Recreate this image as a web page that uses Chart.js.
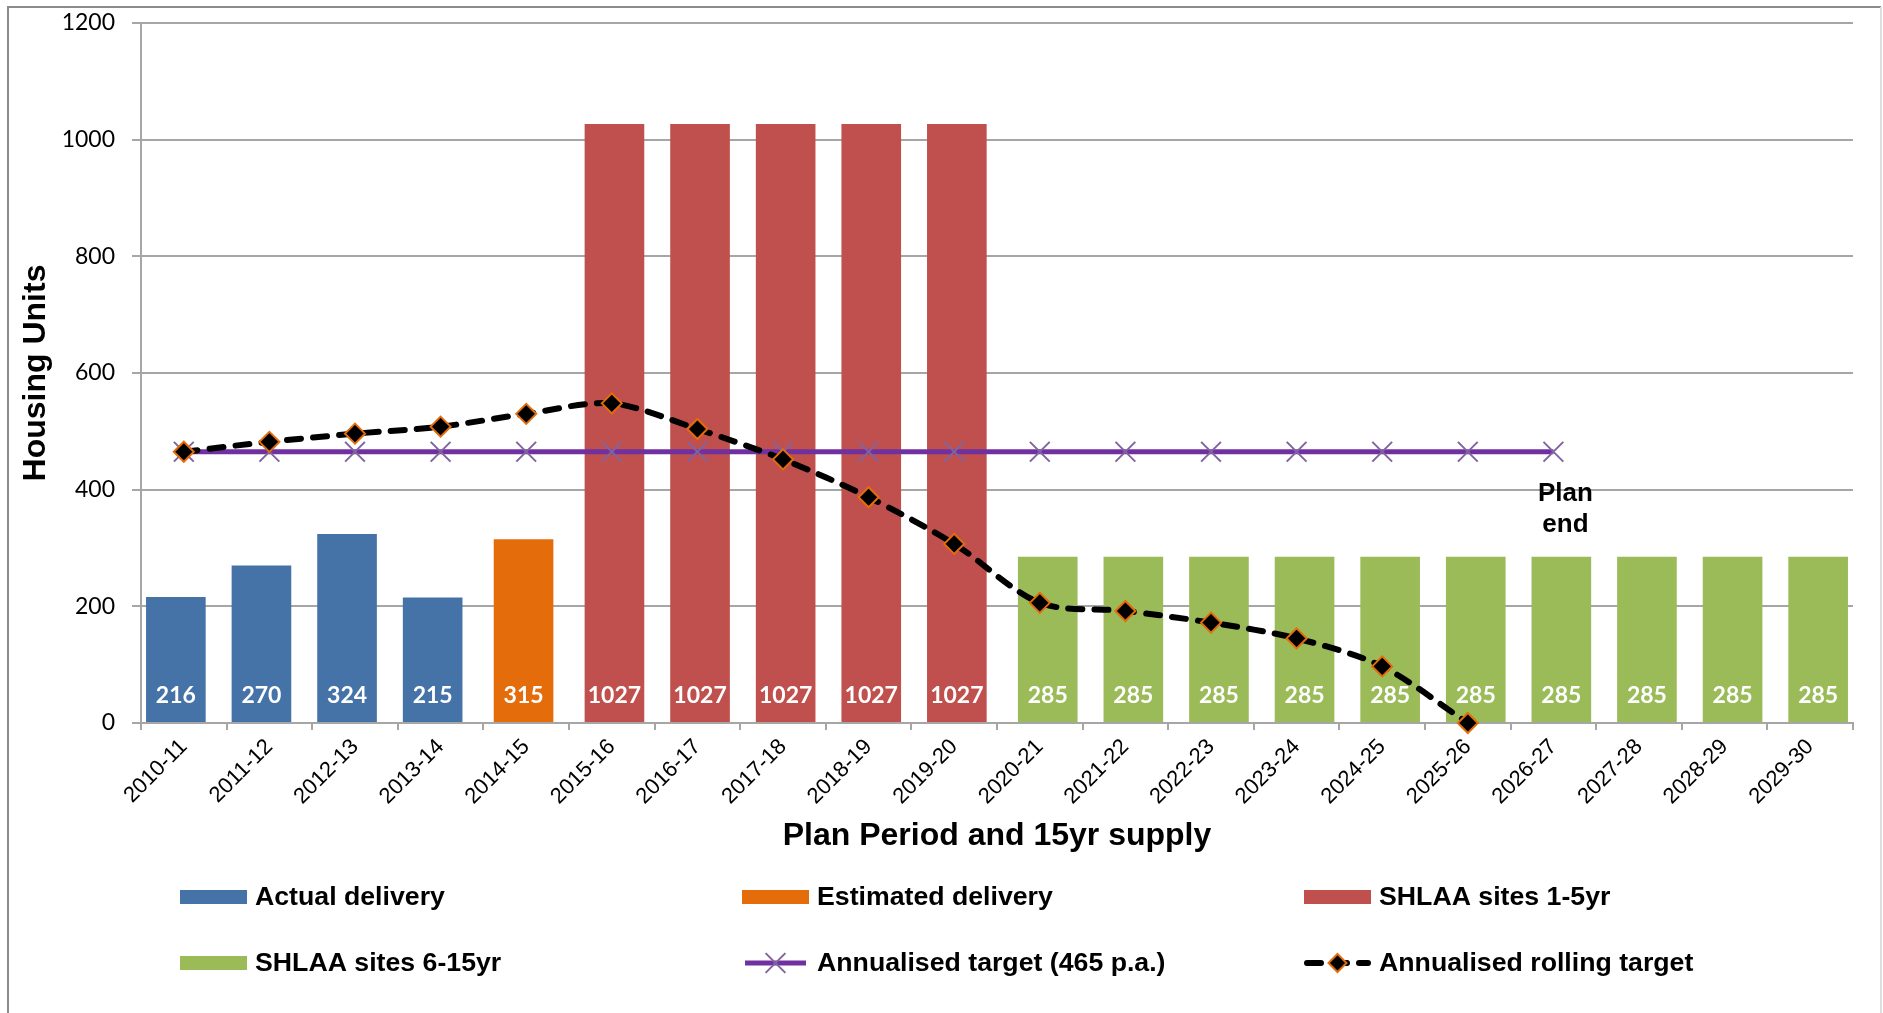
<!DOCTYPE html>
<html>
<head>
<meta charset="utf-8">
<title>Housing supply trajectory</title>
<script src="https://cdn.jsdelivr.net/npm/chart.js@4/dist/chart.umd.min.js"></script>
<style>
  html, body { margin: 0; padding: 0; background: #ffffff; }
  #wrap { width: 1883px; height: 1013px; position: relative; }
</style>
</head>
<body>
<div id="wrap"><canvas id="supplyChart"></canvas></div>
<script>
// ---- data -------------------------------------------------------------
const years = ['2010-11', '2011-12', '2012-13', '2013-14', '2014-15', '2015-16', '2016-17',
  '2017-18', '2018-19', '2019-20', '2020-21', '2021-22', '2022-23', '2023-24', '2024-25',
  '2025-26', '2026-27', '2027-28', '2028-29', '2029-30'];

const actualDelivery    = [216, 270, 324, 215, null, null, null, null, null, null,
                           null, null, null, null, null, null, null, null, null, null];
const estimatedDelivery = [null, null, null, null, 315, null, null, null, null, null,
                           null, null, null, null, null, null, null, null, null, null];
const shlaa1to5         = [null, null, null, null, null, 1027, 1027, 1027, 1027, 1027,
                           null, null, null, null, null, null, null, null, null, null];
const shlaa6to15        = [null, null, null, null, null, null, null, null, null, null,
                           285, 285, 285, 285, 285, 285, 285, 285, 285, 285];
const annualTarget      = [465, 465, 465, 465, 465, 465, 465, 465, 465, 465,
                           465, 465, 465, 465, 465, 465, 465, null, null, null];
const rollingTarget     = [465, 482, 496, 508, 530, 548, 504, 452, 387, 307,
                           206, 192, 172, 145, 97, 0, null, null, null, null];

const yTicks = [0, 200, 400, 600, 800, 1000, 1200];
const planEndIndex = 16;
const planEndText = ['Plan', 'end'];
const planEndValue = 380;

const legendOrder = ['Actual delivery', 'Estimated delivery', 'SHLAA sites 1-5yr',
  'SHLAA sites 6-15yr', 'Annualised target (465 p.a.)', 'Annualised rolling target'];

// ---- plugins ----------------------------------------------------------
const frame = {
  id: 'frame',
  beforeDraw(chart) {
    const ctx = chart.ctx;
    ctx.save();
    ctx.fillStyle = '#ffffff';
    ctx.fillRect(0, 0, chart.width, chart.height);
    ctx.lineWidth = 2;
    ctx.strokeStyle = '#8c8c8c';
    ctx.beginPath();
    ctx.moveTo(8, chart.height);
    ctx.lineTo(8, 7);
    ctx.lineTo(1881, 7);
    ctx.stroke();
    ctx.strokeStyle = '#dedede';
    ctx.beginPath();
    ctx.moveTo(1881, 7);
    ctx.lineTo(1881, chart.height);
    ctx.stroke();
    ctx.restore();
  }
};

// white value labels sitting near the foot of each bar
const barValues = {
  id: 'barValues',
  afterDatasetsDraw(chart) {
    const ctx = chart.ctx;
    const base = chart.scales.y.getPixelForValue(0);
    ctx.save();
    ctx.font = 'bold 23px Lato';
    ctx.fillStyle = '#ffffff';
    ctx.textAlign = 'center';
    ctx.textBaseline = 'middle';
    chart.data.datasets.forEach((ds, di) => {
      if (ds.type !== 'bar') return;
      const meta = chart.getDatasetMeta(di);
      meta.data.forEach((el, i) => {
        const v = ds.data[i];
        if (v === null || v === undefined) return;
        ctx.fillText(String(v), el.x, base - 27);
      });
    });
    ctx.restore();
  }
};

const planEnd = {
  id: 'planEnd',
  afterDraw(chart) {
    const ctx = chart.ctx;
    const x = chart.scales.x.getPixelForValue(planEndIndex) + 12;
    const y = chart.scales.y.getPixelForValue(planEndValue);
    ctx.save();
    ctx.font = 'bold 26px "Liberation Sans"';
    ctx.fillStyle = '#000000';
    ctx.textAlign = 'center';
    ctx.textBaseline = 'alphabetic';
    planEndText.forEach((t, k) => ctx.fillText(t, x, y + k * 31));
    ctx.restore();
  }
};

// three-column legend under the axis title
const gridLegend = {
  id: 'gridLegend',
  afterDraw(chart) {
    const ctx = chart.ctx;
    const colX = [180, 742, 1304];
    const rowY = [897, 963];
    const swatchW = 67;
    ctx.save();
    legendOrder.forEach((label, i) => {
      const ds = chart.data.datasets.find(d => d.label === label);
      const x = colX[i % 3];
      const y = rowY[Math.floor(i / 3)];
      if (ds.type === 'bar') {
        ctx.fillStyle = ds.backgroundColor;
        ctx.fillRect(x, y - 7, swatchW, 14);
      } else {
        ctx.strokeStyle = ds.borderColor;
        ctx.lineWidth = ds.borderWidth;
        ctx.lineCap = ds.borderCapStyle || 'butt';
        ctx.setLineDash(ds.borderDash || []);
        ctx.beginPath();
        ctx.moveTo(x + 3, y);
        ctx.lineTo(x + swatchW - 3, y);
        ctx.stroke();
        ctx.setLineDash([]);
        ctx.lineCap = 'butt';
        ctx.fillStyle = ds.pointBackgroundColor;
        ctx.strokeStyle = ds.pointBorderColor;
        ctx.lineWidth = ds.pointBorderWidth;
        Chart.helpers.drawPoint(ctx, {
          pointStyle: ds.pointStyle,
          radius: ds.legendPointRadius,
          borderWidth: ds.pointBorderWidth,
          rotation: 0
        }, x + swatchW / 2, y);
      }
      ctx.font = 'bold 26.7px "Liberation Sans"';
      ctx.fillStyle = '#000000';
      ctx.textAlign = 'left';
      ctx.textBaseline = 'middle';
      ctx.fillText(label, x + swatchW + 8, y + 1);
    });
    ctx.restore();
  }
};

// ---- chart ------------------------------------------------------------
const gridGrey = '#a6a6a6';

new Chart(document.getElementById('supplyChart'), {
  data: {
    labels: years,
    datasets: [
      {
        type: 'line', label: 'Annualised rolling target', data: rollingTarget, order: 0,
        borderColor: '#000000', borderWidth: 6, borderDash: [14, 12], borderCapStyle: 'round',
        tension: 0.3, fill: false, clip: false, spanGaps: false,
        pointStyle: 'rectRot', pointRadius: 10, legendPointRadius: 9,
        pointBackgroundColor: '#000000', pointBorderColor: '#E46C0A', pointBorderWidth: 2,
        pointHoverRadius: 10
      },
      {
        type: 'line', label: 'Annualised target (465 p.a.)', data: annualTarget, order: 1,
        borderColor: '#7030A0', borderWidth: 5, tension: 0, fill: false, clip: false,
        pointStyle: 'crossRot', pointRadius: 14, legendPointRadius: 14,
        pointBackgroundColor: '#8064A2', pointBorderColor: '#8064A2', pointBorderWidth: 2,
        pointHoverRadius: 14
      },
      // four overlapping bar series per category slot
      { type: 'bar', label: 'Actual delivery', data: actualDelivery, backgroundColor: '#4572A7', order: 2 },
      { type: 'bar', label: 'Estimated delivery', data: estimatedDelivery, backgroundColor: '#E46C0A', order: 3 },
      { type: 'bar', label: 'SHLAA sites 1-5yr', data: shlaa1to5, backgroundColor: '#C0504D', order: 4 },
      { type: 'bar', label: 'SHLAA sites 6-15yr', data: shlaa6to15, backgroundColor: '#9BBB59', order: 5 }
    ]
  },
  options: {
    responsive: true,
    maintainAspectRatio: false,
    animation: false,
    devicePixelRatio: 1,
    layout: { padding: { top: 23, left: 10, right: 30, bottom: 158 } },
    datasets: { bar: { barPercentage: 11.25, categoryPercentage: 0.2477, skipNull: false } },
    plugins: {
      legend: { display: false },
      tooltip: { enabled: false }
    },
    scales: {
      x: {
        offset: true,
        afterFit(scale) { scale.height = 132; },
        border: { display: true, color: gridGrey, width: 2 },
        grid: { display: true, drawOnChartArea: false, drawTicks: true, tickLength: 7,
                offset: true, color: gridGrey, lineWidth: 2 },
        ticks: {
          autoSkip: false, minRotation: 45, maxRotation: 45, padding: 4,
          color: '#000000', font: { family: 'Liberation Sans', size: 22 }
        },
        title: {
          display: true, text: 'Plan Period and 15yr supply', color: '#000000',
          padding: { top: 0, bottom: 0 },
          font: { family: 'Liberation Sans', size: 32, weight: 'bold' }
        }
      },
      y: {
        min: yTicks[0],
        max: yTicks[yTicks.length - 1],
        afterFit(scale) {
          scale.width = 131;
          scale.paddingTop = 0;
          scale.paddingBottom = 0;
        },
        afterBuildTicks(scale) { scale.ticks = yTicks.map(v => ({ value: v })); },
        border: { display: true, color: gridGrey, width: 2 },
        grid: { color: gridGrey, lineWidth: 2, tickLength: 9, drawTicks: true },
        ticks: {
          padding: 17, color: '#000000',
          font: { family: 'Lato', size: 23 },
          callback: (v) => String(v)
        },
        title: {
          display: true, text: 'Housing Units', color: '#000000',
          padding: { top: 7, bottom: 0 },
          font: { family: 'Liberation Sans', size: 32, weight: 'bold' }
        }
      }
    }
  },
  plugins: [frame, barValues, planEnd, gridLegend]
});
</script>
</body>
</html>
